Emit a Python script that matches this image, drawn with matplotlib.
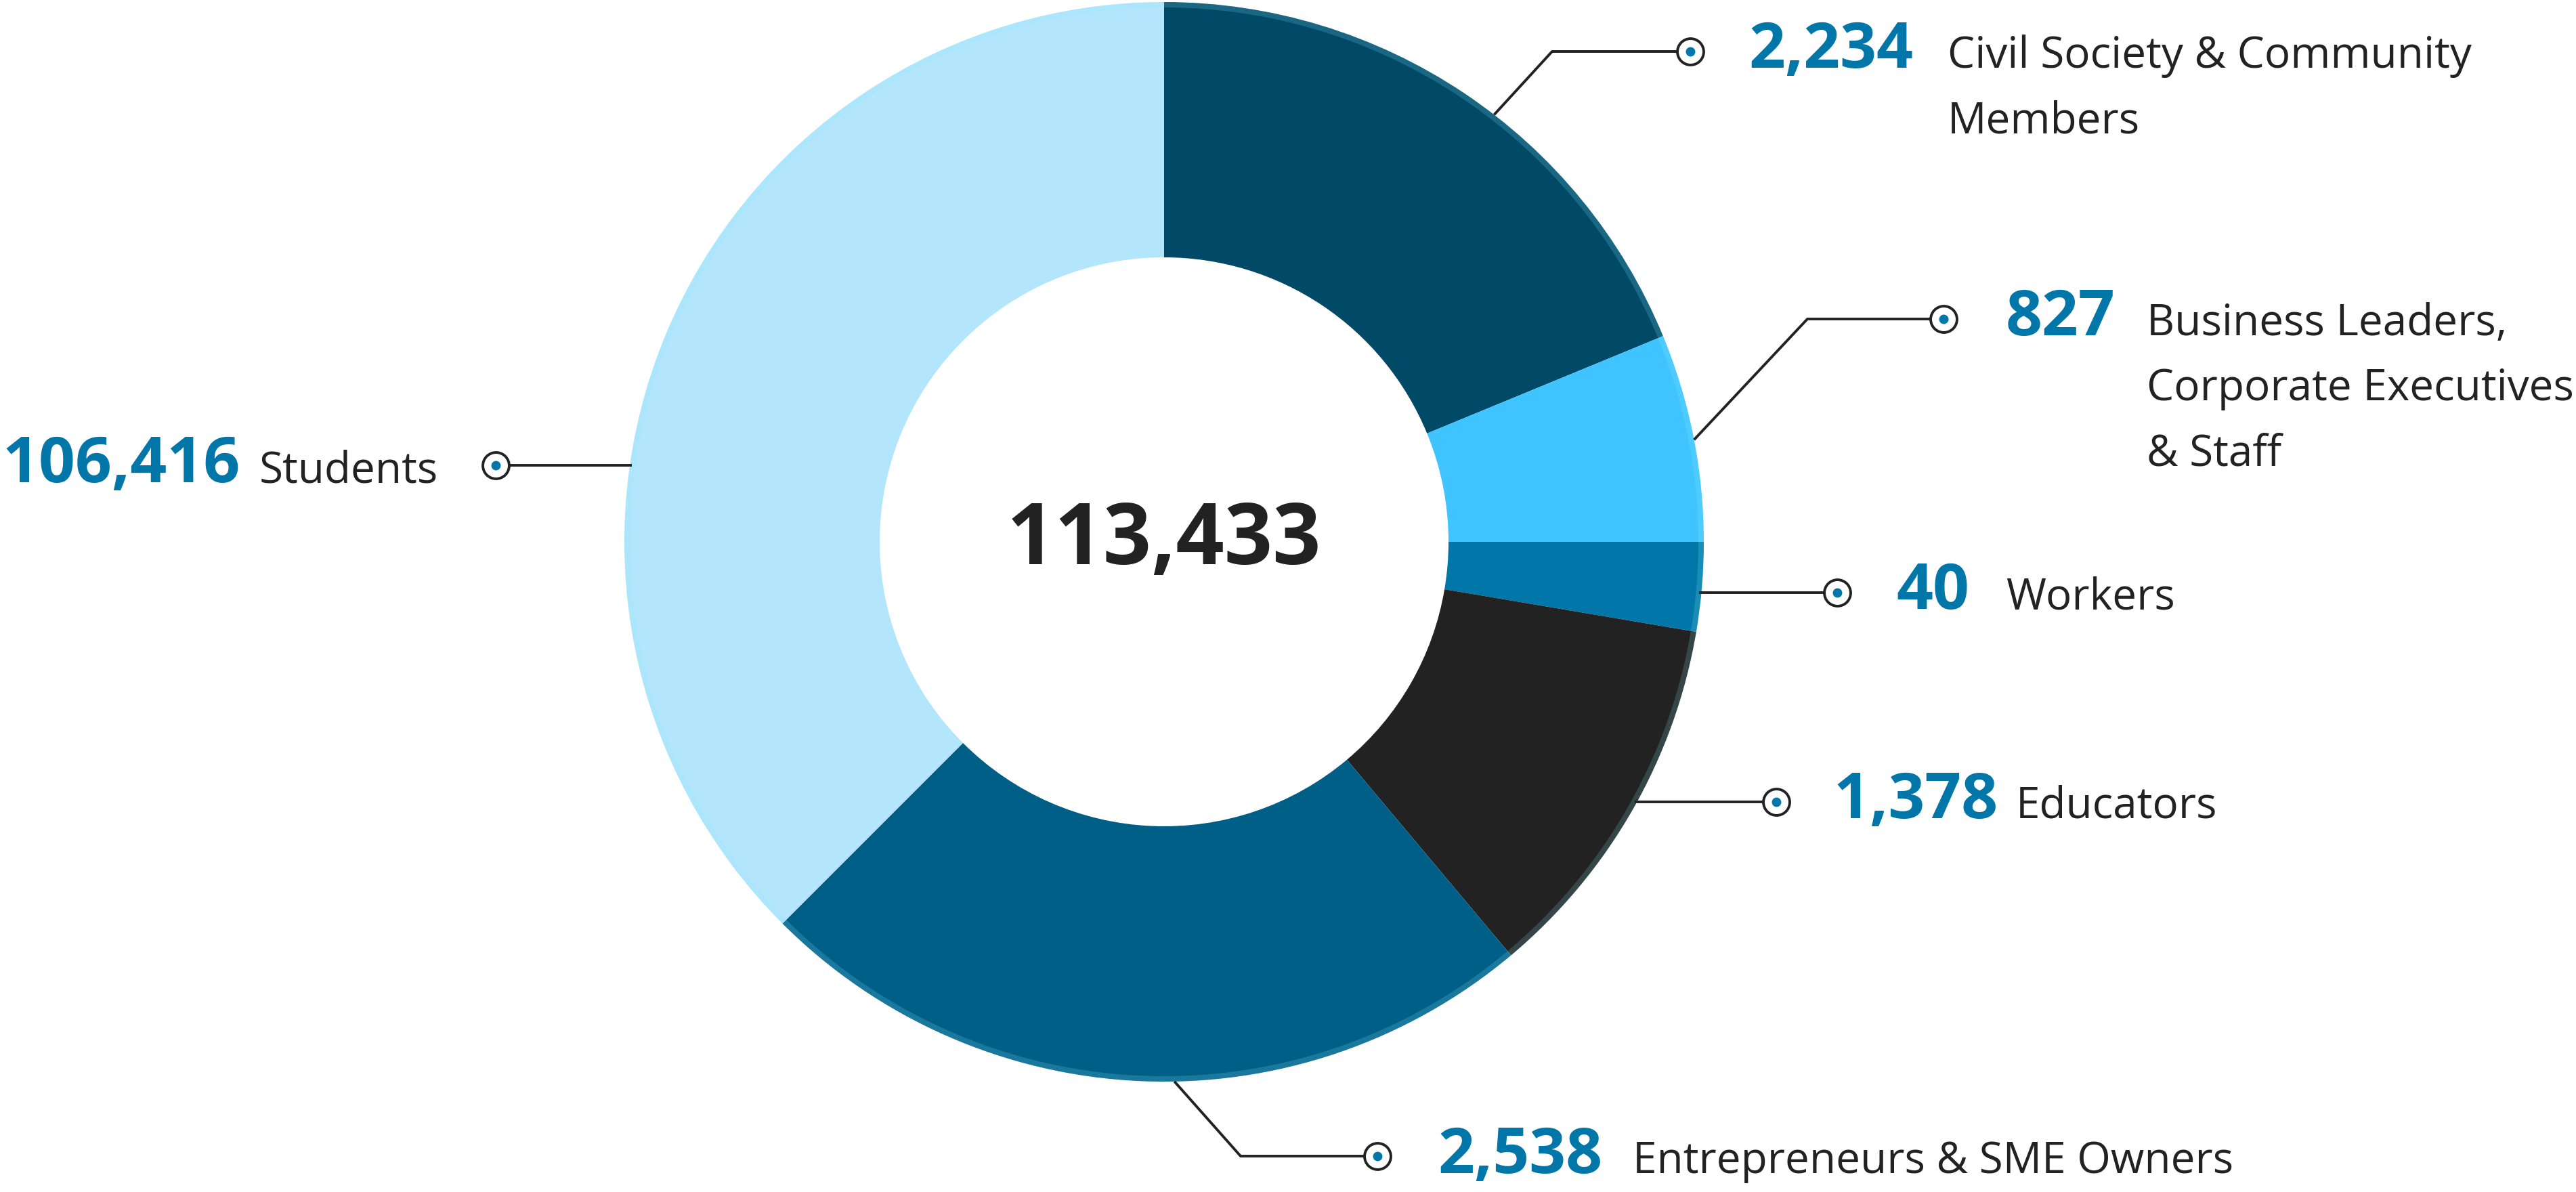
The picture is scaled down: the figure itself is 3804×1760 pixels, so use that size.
import numpy as np
import matplotlib.pyplot as plt

# DATA
groups = ['Civil Society & Community\nMembers',
          'Business Leaders,\nCorporate Executives\n& Staff',
          'Workers', 'Educators', 'Entrepreneurs & SME Owners', 'Students']
counts = [2234, 827, 40, 1378, 2538, 106416]
total = 113433
# slice sizes as drawn in the picture (degrees, clockwise from top)
drawn_deg = [67.6, 22.4, 9.6, 40.4, 85.0, 135.0]
colors = ['#004A68', '#40C4FF', '#0077A8', '#222222', '#005F87', '#B3E5FC']

# LAYOUT (pixel coords, y down)
W, H = 3804, 1760
cx, cy = 1719, 800
r_out, r_in = 797, 420
lead_ang = [37.7, 79.1, None, None, 178.9, None]
elbow = [(2292, 76), (2669, 471), None, None, (1832, 1707), None]
marker = [(2496, 76), (2870, 471), (2713, 875), (2623, 1184), (2034, 1707), (732, 687)]
num_x = [2582, 2962, 2800, 2707, 2123, 3]
lab_x = [2876, 3170, 2962, 2977, 2411, 383]
base_y = [100, 495, 899, 1208, 1732, 712]

blue = '#0077A8'
ink = '#222222'
num_font = ['Open Sans', 'DejaVu Sans']

fig = plt.figure(figsize=(W / 100, H / 100), dpi=100)
ax = fig.add_axes([0, 0, 1, 1])

ax.pie(drawn_deg, colors=colors, startangle=90, counterclock=False,
       radius=r_out, center=(cx, H - cy),
       wedgeprops=dict(width=r_out - r_in, linewidth=0))
# thin light rim on the outer edge
ax.pie([1], colors=['#8FEFFF'], radius=r_out, center=(cx, H - cy),
       wedgeprops=dict(width=8, linewidth=0, alpha=0.18))
ax.set_xlim(0, W)
ax.set_ylim(0, H)
ax.set_aspect('equal')
ax.axis('off')

def Y(y):
    return H - y

ax.text(cx, Y(cy), f'{total:,}', ha='center', va='center', fontsize=90,
        fontweight='bold', color=ink, family=num_font)

for i in range(len(counts)):
    mx, my = marker[i]
    if lead_ang[i] is not None:
        a = np.radians(lead_ang[i])
        sx, sy = cx + r_out * np.sin(a), cy - r_out * np.cos(a)
    else:
        off = np.sqrt(r_out ** 2 - (my - cy) ** 2) - 3
        sx, sy = (cx + off if mx > cx else cx - off), my
    pts = [(sx, sy)]
    if elbow[i] is not None:
        pts.append(elbow[i])
    d = 20 if mx > sx else -20
    pts.append((mx - d, my))
    xs = [p[0] for p in pts]
    ys = [Y(p[1]) for p in pts]
    ax.plot(xs, ys, color=ink, lw=2.8, solid_capstyle='butt', zorder=3)
    ax.plot(mx, Y(my), 'o', ms=28, mfc='white', mec=ink, mew=2.8, zorder=4)
    ax.plot(mx, Y(my), 'o', ms=10, mfc=blue, mec=blue, mew=0, zorder=5)

    ax.text(num_x[i], Y(base_y[i]), f'{counts[i]:,}', ha='left', va='baseline',
            fontsize=68, fontweight='bold', color=blue, family=num_font)
    for k, line in enumerate(groups[i].split('\n')):
        ax.text(lab_x[i], Y(base_y[i] + 96 * k), line, ha='left', va='baseline',
                fontsize=46, color=ink, family=num_font)

fig.savefig('out.png', dpi=100, facecolor='white')
